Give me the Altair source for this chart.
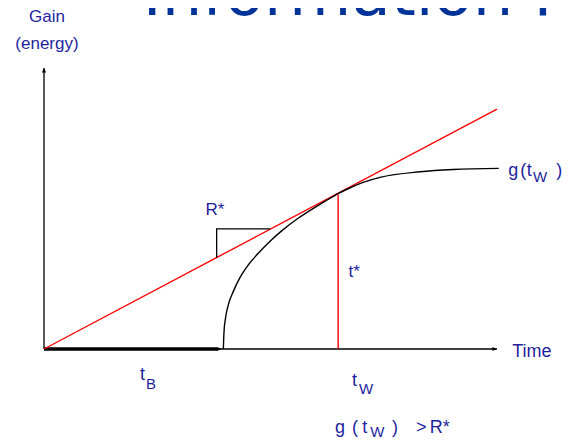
import altair as alt
import pandas as pd

# ---- data (time units / gain units) ----
curve_t = [4.03, 4.045, 4.08, 4.14, 4.25, 4.40, 4.59, 4.82, 5.04, 5.34, 5.71, 6.09, 6.54, 6.61, 6.76, 7.17, 7.55, 8.45, 9.19, 10.22]
curve_g = [0.00, 0.61, 1.11, 1.57, 2.04, 2.54, 3.00, 3.43, 3.79, 4.22, 4.67, 5.06, 5.49, 5.55, 5.67, 5.95, 6.13, 6.33, 6.41, 6.45]

rate_t = [0.0, 10.18]          # red line (rate R*)
rate_g = [0.0, 8.57]

t_B = 3.99                      # travel time
t_w = 6.61                      # optimal residence time
g_tw = 5.52                     # gain at t_w

x_axis_end = 10.18
y_axis_end = 10.04

tri_t = [3.88, 3.88, 5.08]      # slope triangle
tri_g = [3.27, 4.29, 4.29]

X_DOM = [-0.809, 11.663]
Y_DOM = [-3.25, 12.179]

TXT = "#1f1f9e"
xs = alt.Scale(domain=X_DOM, nice=False, zero=False)
ys = alt.Scale(domain=Y_DOM, nice=False, zero=False)

def X(f="t"):
    return alt.X(f"{f}:Q", scale=xs, axis=None)

def Y(f="g"):
    return alt.Y(f"{f}:Q", scale=ys, axis=None)

axes_df = pd.DataFrame({"t": [0, 0], "g": [0, y_axis_end], "t2": [x_axis_end, 0], "g2": [0, 0]})
axes = alt.Chart(axes_df).mark_rule(color="black", strokeWidth=1.3).encode(
    x=X(), y=Y(), x2="t2:Q", y2="g2:Q")

thick = alt.Chart(pd.DataFrame({"t": [0], "t2": [t_B - 0.1], "g": [0]})).mark_rule(
    color="black", strokeWidth=3.5).encode(x=X(), x2="t2:Q", y=Y())

arrow_r = "M-1.3,-0.6 L0,0 L-1.3,0.6 Z"
arrow_u = "M-0.6,1.3 L0,0 L0.6,1.3 Z"
ar_df = pd.DataFrame({"t": [x_axis_end, t_B], "g": [0, 0]})
arrows_r = alt.Chart(ar_df).mark_point(shape=arrow_r, filled=True, color="black",
                                       size=50, opacity=1).encode(x=X(), y=Y())
arrows_u = alt.Chart(pd.DataFrame({"t": [0], "g": [y_axis_end]})).mark_point(
    shape=arrow_u, filled=True, color="black", size=50, opacity=1).encode(x=X(), y=Y())

rate = alt.Chart(pd.DataFrame({"t": rate_t, "g": rate_g})).mark_line(
    color="#ff0000", strokeWidth=1.4).encode(x=X(), y=Y())

curve = alt.Chart(pd.DataFrame({"t": curve_t, "g": curve_g, "o": list(range(len(curve_t)))})).mark_line(
    color="black", strokeWidth=1.4, interpolate="monotone").encode(x=X(), y=Y(), order="o:Q")

vline = alt.Chart(pd.DataFrame({"t": [t_w], "g": [0], "g2": [g_tw]})).mark_rule(
    color="#ff0000", strokeWidth=1.4).encode(x=X(), y=Y(), y2="g2:Q")

tri = alt.Chart(pd.DataFrame({"t": tri_t, "g": tri_g, "o": [0, 1, 2]})).mark_line(
    color="black", strokeWidth=1.3).encode(x=X(), y=Y(), order="o:Q")

# labels
def text_layer(df, size, align="left", color=TXT, font="Liberation Sans", baseline="middle"):
    return alt.Chart(pd.DataFrame(df)).mark_text(
        align=align, baseline=baseline, fontSize=size, font=font, color=color
    ).encode(x=X(), y=Y(), text="s:N")

lab_center = text_layer({"t": [0.067, 0.067, 3.84, 6.97],
                         "g": [11.86, 10.90, 4.96, 2.75],
                         "s": ["Gain", "(energy)", "R*", "t*"]}, 17, align="center")
lab_main = text_layer({"t": [10.52, 2.157, 6.92,
                             10.43, 10.70, 10.85, 11.51,
                             6.54, 6.92, 7.15, 7.82, 8.36, 8.67],
                       "g": [-0.11, -0.93, -1.14,
                             6.36, 6.36, 6.36, 6.36,
                             -2.82, -2.82, -2.82, -2.82, -2.82, -2.82],
                       "s": ["Time", "t", "t",
                             "g", "(", "t", ")",
                             "g", "(", "t", ")", ">", "R*"]}, 18)
lab_sub = text_layer({"t": [2.29, 7.08, 10.99, 7.33],
                      "g": [-1.25, -1.43, 6.14, -2.98],
                      "s": ["B", "W", "W", "W"]}, 15)

title = text_layer({"t": [2.22], "g": [11.93], "s": ["Information F"]}, 64,
                   color="#003399", font="DejaVu Sans", baseline="alphabetic")

chart = alt.layer(title, axes, thick, arrows_r, arrows_u, rate, curve, vline, tri,
                  lab_center, lab_main, lab_sub).properties(
    width=555, height=432, autosize=alt.AutoSizeParams(type="none"), padding=0
).configure_view(strokeWidth=0)

chart.save("out.html", embed_options={"renderer": "svg", "actions": False})
